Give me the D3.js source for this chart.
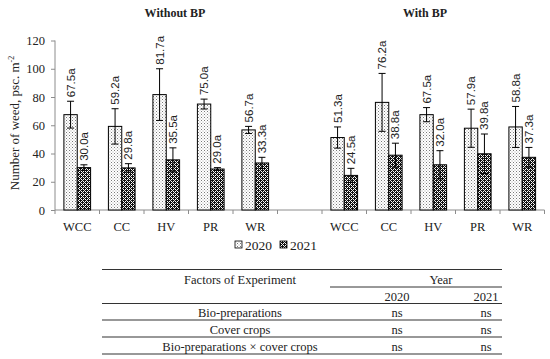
<!DOCTYPE html>
<html><head><meta charset="utf-8">
<script src="https://cdn.jsdelivr.net/npm/d3@7"></script>
<style>
html,body{margin:0;padding:0;background:#fff;}
svg{display:block;}
</style></head>
<body>
<svg id="chart" width="550" height="359"></svg>
<script>
// ---- data ----
const categories = ["WCC", "CC", "HV", "PR", "WR"];
const groups = ["Without BP", "With BP"];
const years = ["2020", "2021"];
const withoutBP2020 = [67.5, 59.2, 81.7, 75.0, 56.7];
const withoutBP2021 = [30.0, 29.8, 35.5, 29.0, 33.3];
const withBP2020 = [51.3, 76.2, 67.5, 57.9, 58.8];
const withBP2021 = [24.5, 38.8, 32.0, 39.8, 37.3];
const withoutBP2020Err = [9.5, 12.5, 18.3, 3.5, 2.5];
const withoutBP2021Err = [2.0, 3.0, 8.5, 1.0, 4.0];
const withBP2020Err = [7.5, 20.5, 5.0, 13.5, 14.5];
const withBP2021Err = [5.0, 8.5, 10.0, 14.0, 7.0];
const letters2020 = ["a", "a", "a", "a", "a"];
const letters2021 = ["a", "a", "a", "a", "a"];
const yTicks = [0, 20, 40, 60, 80, 100, 120];
const tableHeader = ["Factors of Experiment", "Year"];
const tableYears = ["2020", "2021"];
const tableRows = ["Bio-preparations", "Cover crops", "Bio-preparations \u00d7 cover crops"];
const table2020 = ["ns", "ns", "ns"];
const table2021 = ["ns", "ns", "ns"];

const svg = d3.select("#chart");
const serif = "'Liberation Serif', 'Times New Roman', serif";
const sans = "'Liberation Sans', Arial, sans-serif";

// patterns
const defs = svg.append("defs");
const p1 = defs.append("pattern").attr("id", "pat2020").attr("patternUnits", "userSpaceOnUse")
  .attr("width", 3).attr("height", 3);
p1.append("rect").attr("width", 3).attr("height", 3).attr("fill", "#fff");
p1.append("rect").attr("x", 0).attr("y", 0).attr("width", 1).attr("height", 1).attr("fill", "#7a7a7a");
p1.append("rect").attr("x", 1.5).attr("y", 1.5).attr("width", 1).attr("height", 1).attr("fill", "#a8a8a8");
const p2 = defs.append("pattern").attr("id", "pat2021").attr("patternUnits", "userSpaceOnUse")
  .attr("width", 4).attr("height", 4);
p2.append("rect").attr("width", 4).attr("height", 4).attr("fill", "#111");
[[1, 1], [3, 3], [1, 3], [3, 1]].forEach(([px, py]) =>
  p2.append("rect").attr("x", px).attr("y", py).attr("width", 1).attr("height", 1).attr("fill", "#fff"));
[[0, 2], [2, 0]].forEach(([px, py]) =>
  p2.append("rect").attr("x", px).attr("y", py).attr("width", 1).attr("height", 1).attr("fill", "#ddd"));
const fills = {"2020": "url(#pat2020)", "2021": "url(#pat2021)"};

// slots: 5 categories, gap, 5 categories
const slotKeys = [];
categories.forEach(c => slotKeys.push("L-" + c));
slotKeys.push("gap");
categories.forEach(c => slotKeys.push("R-" + c));

const x = d3.scaleBand().domain(slotKeys).range([55, 544.5]).padding(0);
const y = d3.scaleLinear().domain([0, 120]).range([210, 40.5]);
const inner = d3.scaleBand().domain(years).range([x.bandwidth() * 0.2, x.bandwidth() * 0.8]).padding(0);

// build records
const records = [];
const sets = [
  {g: "L", v20: withoutBP2020, v21: withoutBP2021, e20: withoutBP2020Err, e21: withoutBP2021Err},
  {g: "R", v20: withBP2020, v21: withBP2021, e20: withBP2020Err, e21: withBP2021Err}
];
sets.forEach(s => {
  categories.forEach((c, i) => {
    records.push({slot: s.g + "-" + c, year: "2020", v: s.v20[i], e: s.e20[i], lab: s.v20[i].toFixed(1) + letters2020[i]});
    records.push({slot: s.g + "-" + c, year: "2021", v: s.v21[i], e: s.e21[i], lab: s.v21[i].toFixed(1) + letters2021[i]});
  });
});

// axes
const axisColor = "#8c8c8c";
const yAxis = svg.append("g").attr("transform", "translate(55,0)")
  .call(d3.axisLeft(y).tickValues(yTicks).tickSize(4).tickPadding(6).tickFormat(d3.format("d")));
yAxis.select(".domain").attr("stroke", axisColor).attr("d", `M0,${y(0)}V${y(120)}`);
yAxis.selectAll(".tick line").attr("stroke", axisColor);
yAxis.selectAll(".tick text").attr("font-family", serif).attr("font-size", 12.5).attr("fill", "#222");

// x axis line and ticks between categories
const xg = svg.append("g");
xg.append("line").attr("x1", x.range()[0]).attr("x2", x.range()[1]).attr("y1", y(0)).attr("y2", y(0))
  .attr("stroke", axisColor);
const bounds = slotKeys.map(k => x(k)).concat([x.range()[1]]);
xg.selectAll("line.tk").data(bounds).join("line").attr("class", "tk")
  .attr("x1", d => d).attr("x2", d => d).attr("y1", y(0)).attr("y2", y(0) + 4).attr("stroke", axisColor);
xg.selectAll("text.cat").data(slotKeys.filter(k => k !== "gap")).join("text").attr("class", "cat")
  .attr("x", d => x(d) + x.bandwidth() / 2).attr("y", 231)
  .attr("text-anchor", "middle").attr("font-family", serif).attr("font-size", 12.5).attr("fill", "#222")
  .text(d => d.slice(2));

// bars
const bars = svg.append("g");
bars.selectAll("rect").data(records).join("rect")
  .attr("x", d => x(d.slot) + inner(d.year))
  .attr("y", d => y(d.v))
  .attr("width", inner.bandwidth())
  .attr("height", d => y(0) - y(d.v))
  .attr("fill", d => fills[d.year])
  .attr("stroke", "#000").attr("stroke-width", 1);

// error bars
const eb = svg.append("g").attr("stroke", "#000").attr("stroke-width", 1);
records.forEach(d => {
  const cx = x(d.slot) + inner(d.year) + inner.bandwidth() / 2;
  const top = y(d.v + d.e), bot = y(d.v - d.e);
  eb.append("line").attr("x1", cx).attr("x2", cx).attr("y1", top).attr("y2", bot);
  eb.append("line").attr("x1", cx - 3.5).attr("x2", cx + 3.5).attr("y1", top).attr("y2", top);
  eb.append("line").attr("x1", cx - 3.5).attr("x2", cx + 3.5).attr("y1", bot).attr("y2", bot);
});

// data labels (rotated)
svg.append("g").selectAll("text").data(records).join("text")
  .attr("transform", d => {
    const cx = x(d.slot) + inner(d.year) + inner.bandwidth() / 2 + 4;
    const yy = y(d.v + d.e) - 4;
    return `translate(${cx},${yy}) rotate(-90)`;
  })
  .attr("font-family", sans).attr("font-size", 11.5).attr("fill", "#222")
  .text(d => d.lab);

// titles
svg.append("text").attr("x", 175).attr("y", 17).attr("text-anchor", "middle")
  .attr("font-family", serif).attr("font-size", 12).attr("font-weight", "bold").attr("fill", "#222").text(groups[0]);
svg.append("text").attr("x", 425).attr("y", 17).attr("text-anchor", "middle")
  .attr("font-family", serif).attr("font-size", 12).attr("font-weight", "bold").attr("fill", "#222").text(groups[1]);

// y title
const yt = svg.append("text").attr("transform", "translate(19,123) rotate(-90)").attr("text-anchor", "middle")
  .attr("font-family", serif).attr("font-size", 13).attr("fill", "#222");
yt.append("tspan").text("Number of weed, psc. m");
yt.append("tspan").attr("font-size", 8).attr("dy", -5).text("-2");

// legend
const lg = svg.append("g");
const legX = [235, 280];
years.forEach((yr, i) => {
  lg.append("rect").attr("x", legX[i]).attr("y", 241).attr("width", 7).attr("height", 7)
    .attr("fill", fills[yr]).attr("stroke", "#000").attr("stroke-width", 0.8);
  lg.append("text").attr("x", legX[i] + 10).attr("y", 249.5).attr("font-family", serif)
    .attr("font-size", 13.5).attr("fill", "#222").text(yr);
});

// table
const tb = svg.append("g").attr("font-family", serif).attr("font-size", 12.5).attr("fill", "#222");
const tL = 102, tR = 502, yearL = 330;
const col1 = 240, c2020 = 397, c2021 = 486;
const lineC = "#333";
function hline(x1, x2, yy, w) {
  tb.append("line").attr("x1", x1).attr("x2", x2).attr("y1", yy).attr("y2", yy).attr("stroke", lineC).attr("stroke-width", w);
}
hline(tL, tR, 269.5, 1.2);
tb.append("text").attr("x", col1).attr("y", 283.5).attr("text-anchor", "middle").text(tableHeader[0]);
tb.append("text").attr("x", 441).attr("y", 283.5).attr("text-anchor", "middle").text(tableHeader[1]);
hline(yearL, tR, 287, 1);
tb.append("text").attr("x", c2020).attr("y", 300.5).attr("text-anchor", "middle").text(tableYears[0]);
tb.append("text").attr("x", c2021).attr("y", 300.5).attr("text-anchor", "middle").text(tableYears[1]);
hline(tL, tR, 303.5, 1.2);
const rowY = [317, 333.5, 350.5];
const lineY = [320, 337, 354];
tableRows.forEach((r, i) => {
  tb.append("text").attr("x", col1).attr("y", rowY[i]).attr("text-anchor", "middle").text(r);
  tb.append("text").attr("x", c2020).attr("y", rowY[i]).attr("text-anchor", "middle").text(table2020[i]);
  tb.append("text").attr("x", c2021).attr("y", rowY[i]).attr("text-anchor", "middle").text(table2021[i]);
  hline(tL, tR, lineY[i], 1.2);
});
</script>
</body></html>
